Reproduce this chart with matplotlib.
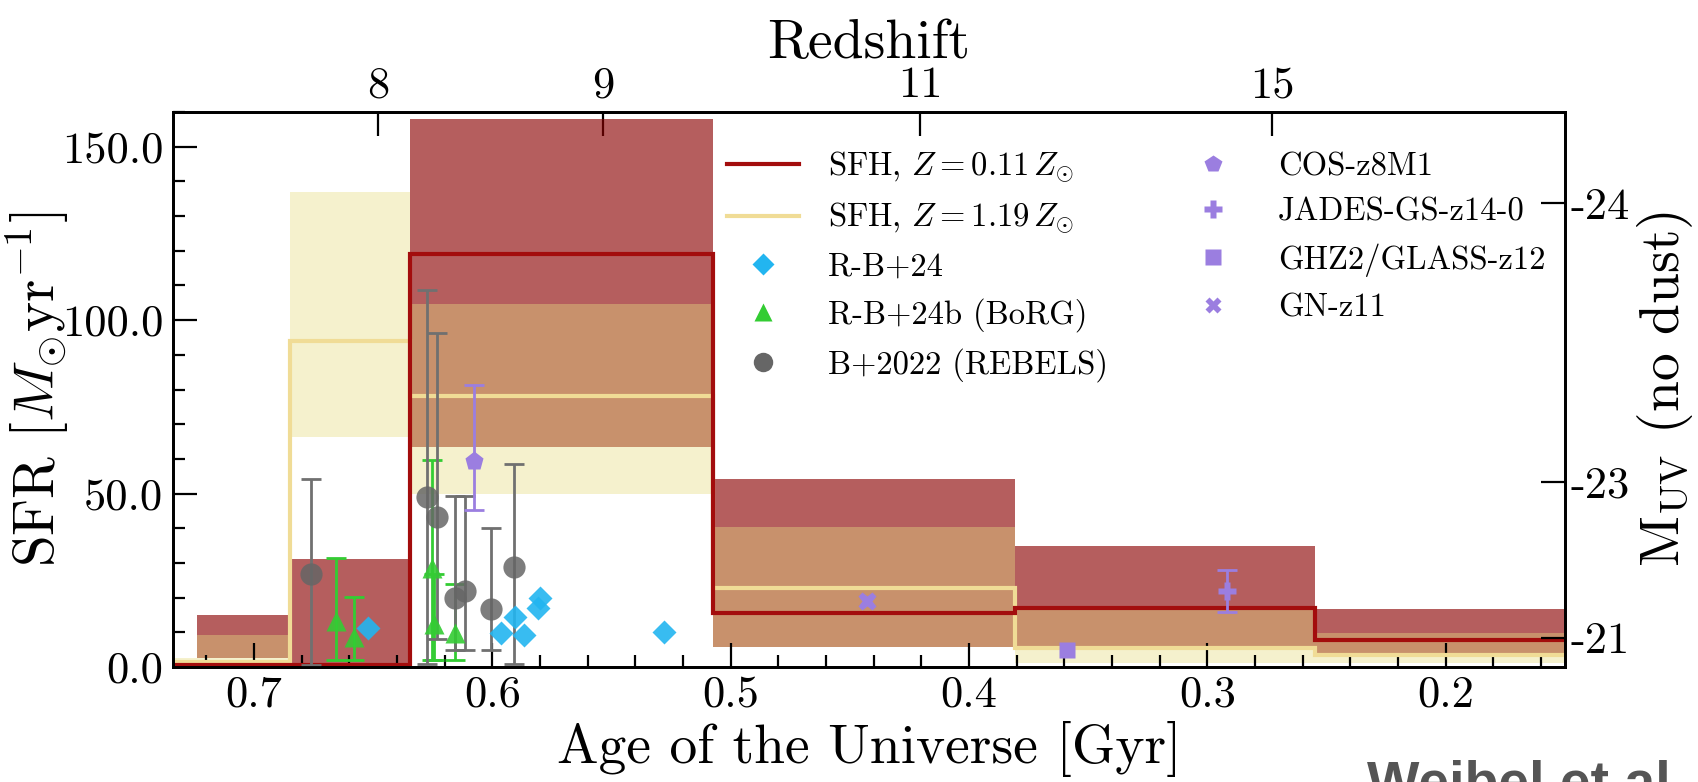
import numpy as np
import matplotlib
matplotlib.use("Agg")
import matplotlib.pyplot as plt
from matplotlib.lines import Line2D
from matplotlib.ticker import MultipleLocator

plt.rcParams["font.family"] = "serif"
plt.rcParams["font.serif"] = ["cmr10"]
plt.rcParams["mathtext.fontset"] = "cm"
plt.rcParams["axes.unicode_minus"] = False
plt.rcParams["axes.formatter.use_mathtext"] = True

# SFH bins, age of the Universe [Gyr]
bin_edges = [0.734, 0.724, 0.685, 0.6345, 0.5074, 0.3807, 0.2548, 0.15]
sfh_low_z = [0.5, 0.5, 0.5, 119.0, 15.6, 17.1, 7.8]
sfh_low_z_lo = [0.0, 2.6, 0.0, 63.5, 5.8, 5.5, 4.0]
sfh_low_z_hi = [0.0, 15.0, 31.0, 158.0, 54.2, 34.8, 16.8]
sfh_high_z = [1.5, 1.5, 94.0, 78.0, 22.9, 5.5, 3.5]
sfh_high_z_lo = [0.0, 0.0, 66.4, 50.0, 5.8, 1.2, 1.2]
sfh_high_z_hi = [2.6, 9.3, 137.0, 104.7, 40.3, 16.5, 9.8]

# R-B+24
rb24_age = [0.6522, 0.5963, 0.5907, 0.5867, 0.5810, 0.5800, 0.5279]
rb24_sfr = [11.3, 9.9, 14.5, 9.3, 17.1, 20.0, 10.2]

# R-B+24b (BoRG)
borg_age = [0.6656, 0.6580, 0.6253, 0.6245, 0.6157]
borg_sfr = [13.4, 8.6, 28.5, 12.5, 9.8]
borg_lo = [2.0, 2.0, 2.0, 2.0, 2.0]
borg_hi = [31.3, 20.3, 59.6, 26.7, 24.0]

# B+2022 (REBELS)
rebels_age = [0.676, 0.6276, 0.6232, 0.6157, 0.6115, 0.6005, 0.5909]
rebels_sfr = [26.7, 49.0, 43.2, 20.0, 21.8, 16.8, 28.7]
rebels_lo = [0.5, 1.0, 8.0, 4.9, 4.9, 4.9, 1.0]
rebels_hi = [54.2, 108.8, 96.3, 49.3, 49.3, 40.0, 58.6]

# single objects: age, sfr, lo, hi
cos_z8m1 = (0.6077, 59.5, 45.3, 81.2)
jades_z14 = (0.2917, 21.8, 16.0, 28.1)
ghz2 = (0.3588, 4.9)
gnz11 = (0.4428, 18.9)

redshift_ticks = [0.648, 0.5535, 0.4205, 0.2728]
redshift_labels = ["8", "9", "11", "15"]
muv_ticks = [-24, -23, -21]
sfr_at_muv23 = 53.2

RED = "#a30d0d"
YELLOW = "#f0dc96"
CYAN = "#22b5f0"
GREEN = "#33cc33"
GRAY = "#666666"
PURPLE = "#9b7ee0"


def yerr(sfr, lo, hi):
    sfr = np.asarray(sfr)
    return [sfr - np.asarray(lo), np.asarray(hi) - sfr]


fig = plt.figure(figsize=(16.99, 7.82), dpi=100)
ax = fig.add_axes([173 / 1699, 1 - 667 / 782, 1392 / 1699, 555 / 782])

# bands: red first, yellow on top gives the orange overlap
ax.stairs(sfh_low_z_hi, bin_edges, baseline=sfh_low_z_lo, fill=True,
          color="#8b0000", alpha=0.63, lw=0, zorder=1)
ax.stairs(sfh_high_z_hi, bin_edges, baseline=sfh_high_z_lo, fill=True,
          color="#e6de82", alpha=0.4, lw=0, zorder=1.1)
ax.stairs(sfh_high_z, bin_edges, baseline=None, color=YELLOW, lw=3, zorder=2)
ax.stairs(sfh_low_z, bin_edges, baseline=None, color=RED, lw=3, zorder=2.1)

eb = dict(fmt="none", elinewidth=2, capsize=7, capthick=2, zorder=3)
ax.errorbar(borg_age, borg_sfr, yerr=yerr(borg_sfr, borg_lo, borg_hi), ecolor=GREEN, **eb)
ax.errorbar(rebels_age, rebels_sfr, yerr=yerr(rebels_sfr, rebels_lo, rebels_hi),
            ecolor="#707070", **eb)
ax.errorbar([cos_z8m1[0]], [cos_z8m1[1]], yerr=yerr([cos_z8m1[1]], [cos_z8m1[2]], [cos_z8m1[3]]),
            ecolor=PURPLE, **eb)
ax.errorbar([jades_z14[0]], [jades_z14[1]], yerr=yerr([jades_z14[1]], [jades_z14[2]], [jades_z14[3]]),
            ecolor=PURPLE, **eb)

ax.plot(rb24_age, rb24_sfr, "D", color=CYAN, ms=12, mec="none", alpha=0.9, zorder=4)
ax.plot(borg_age, borg_sfr, "^", color=GREEN, ms=14, mec="none", alpha=0.9, zorder=4)
ax.plot(rebels_age, rebels_sfr, "o", color=GRAY, ms=16, mec="none", alpha=0.85, zorder=4)
ax.plot([cos_z8m1[0]], [cos_z8m1[1]], "p", color=PURPLE, ms=14, mec="none", zorder=4)
ax.plot([jades_z14[0]], [jades_z14[1]], "P", color=PURPLE, ms=13, mec="none", zorder=4)
ax.plot([ghz2[0]], [ghz2[1]], "s", color=PURPLE, ms=12, mec="none", zorder=4)
ax.plot([gnz11[0]], [gnz11[1]], "X", color=PURPLE, ms=13, mec="none", zorder=4)

ax.set_xlim(0.734, 0.15)
ax.set_ylim(0, 160)

ax.set_xticks([0.7, 0.6, 0.5, 0.4, 0.3, 0.2], labels=["0.7", "0.6", "0.5", "0.4", "0.3", "0.2"])
ax.xaxis.set_minor_locator(MultipleLocator(0.02))
ax.set_yticks([0, 50, 100, 150], labels=["0.0", "50.0", "100.0", "150.0"])
ax.yaxis.set_minor_locator(MultipleLocator(10))
ax.tick_params(which="both", direction="in", top=False, right=False, width=1.6)
ax.tick_params(which="major", length=17, labelsize=32)
ax.tick_params(which="minor", length=8.5)
ax.tick_params(axis="x", pad=6)
ax.tick_params(axis="y", pad=7)
for sp in ax.spines.values():
    sp.set_linewidth(2)

ax.set_xlabel("Age of the Universe [Gyr]", fontsize=40, labelpad=4)
ax.set_ylabel(r"SFR $[M_{\odot}\mathrm{yr}^{-1}]$", fontsize=41)
ax.yaxis.set_label_coords(-0.073, 0.5)

top = ax.secondary_xaxis("top")
top.set_xticks(redshift_ticks, labels=redshift_labels)
top.tick_params(direction="in", length=17, width=1.6, labelsize=32, pad=4)
top.xaxis.set_minor_locator(plt.NullLocator())
top.set_xlabel("Redshift", fontsize=40, labelpad=6)

# right axis: M_UV at the SFR it converts to
right = ax.twinx()
right.set_ylim(ax.get_ylim())
sfr_pos = [sfr_at_muv23 * 10 ** (-0.4 * (m + 23)) for m in muv_ticks]
right.set_yticks(sfr_pos, labels=[str(m) for m in muv_ticks])
right.yaxis.set_minor_locator(plt.NullLocator())
right.tick_params(direction="in", length=17, width=1.6, labelsize=32, pad=4)
for sp in right.spines.values():
    sp.set_linewidth(2)
right.set_ylabel(r"$\mathrm{M_{UV}}$ (no dust)", fontsize=40)
right.yaxis.set_label_coords(1.05, 0.5)

handles = [
    Line2D([], [], color=RED, lw=3),
    Line2D([], [], color=YELLOW, lw=3),
    Line2D([], [], ls="none", marker="D", color=CYAN, ms=11, mec="none"),
    Line2D([], [], ls="none", marker="^", color=GREEN, ms=13, mec="none"),
    Line2D([], [], ls="none", marker="o", color=GRAY, ms=14, mec="none"),
    Line2D([], [], ls="none", marker="p", color=PURPLE, ms=13, mec="none"),
    Line2D([], [], ls="none", marker="P", color=PURPLE, ms=13, mec="none"),
    Line2D([], [], ls="none", marker="s", color=PURPLE, ms=12, mec="none"),
    Line2D([], [], ls="none", marker="X", color=PURPLE, ms=12, mec="none"),
]
labels = [
    r"SFH, $Z = 0.11\,Z_{\odot}$",
    r"SFH, $Z = 1.19\,Z_{\odot}$",
    "R-B+24",
    "R-B+24b (BoRG)",
    "B+2022 (REBELS)",
    "COS-z8M1",
    "JADES-GS-z14-0",
    "GHZ2/GLASS-z12",
    "GN-z11",
]
ax.legend(handles, labels, ncol=2, frameon=False, fontsize=23.5,
          loc="upper left", bbox_to_anchor=(0.398, 0.932), borderpad=0,
          borderaxespad=0, handlelength=2.2, handletextpad=0.9,
          columnspacing=2.1, labelspacing=0.5)

fig.text(1367 / 1699, 1 - 760 / 782, "Weibel et al.", fontsize=40,
         fontweight="bold", color="#555555", family="Liberation Sans", va="top")

fig.savefig("out.png", dpi=100)
